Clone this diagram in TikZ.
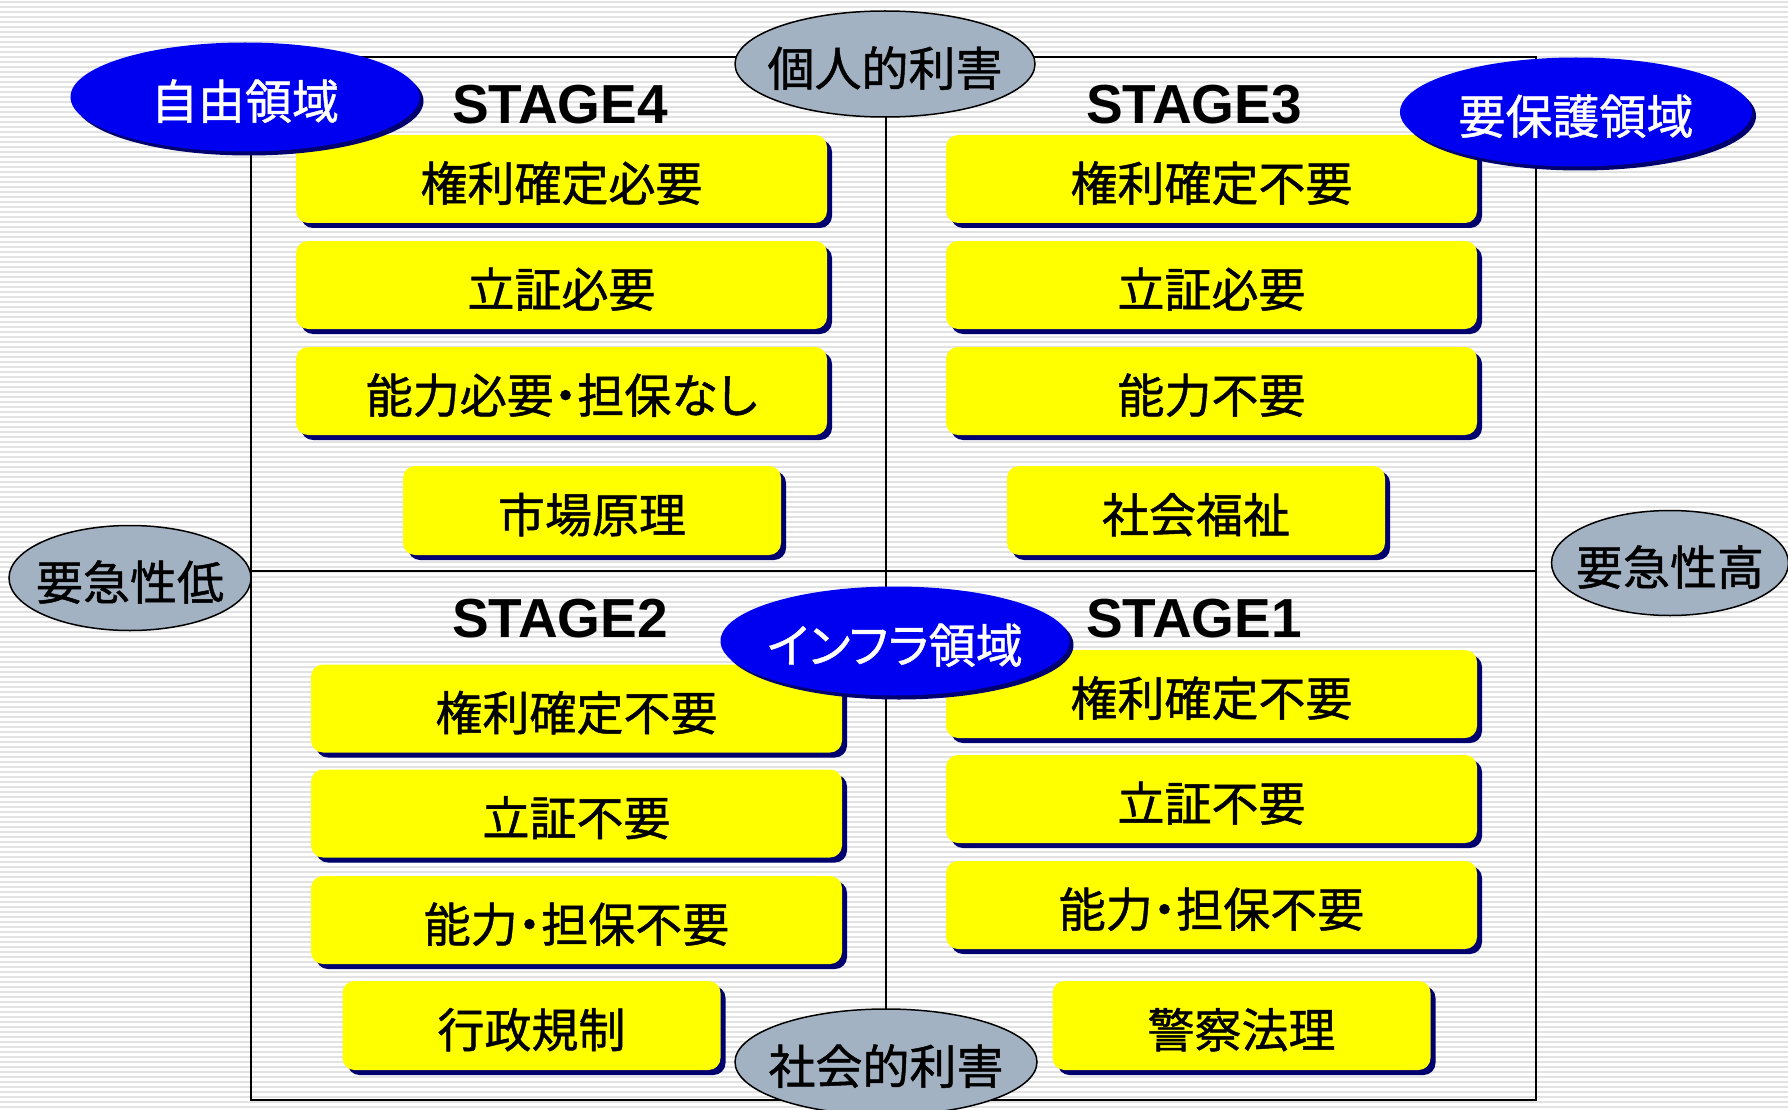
\documentclass[tikz,border=0pt]{standalone}
\usepackage{fontspec}
\usetikzlibrary{shadows,shapes.geometric}
\newfontfamily\jp[RawFeature=+palt, FakeBold=1]{Noto Sans CJK JP}
\newfontfamily\lat{Liberation Sans}
\definecolor{stripe}{RGB}{226,226,226}
\definecolor{boxyellow}{RGB}{255,255,0}
\definecolor{navy}{RGB}{0,0,110}
\definecolor{eblue}{RGB}{0,0,240}
\definecolor{egray}{RGB}{163,178,194}
\newcommand\ctr[1]{\makebox[0pt]{#1}}
\begin{document}
\begin{tikzpicture}[x=1pt,y=-1pt,
  lbl/.style={font=\jp\fontsize{47}{50}\selectfont, inner sep=0pt,
    text height=44pt, text depth=0pt},
  ybox/.style={lbl, rectangle, rounded corners=12pt, fill=boxyellow,
    general shadow={fill=navy, shadow xshift=5pt, shadow yshift=-5pt}},
  bigbox/.style={ybox, minimum width=531pt, minimum height=88pt},
  smallbox/.style={ybox, minimum width=378pt, minimum height=89pt},
  blueell/.style={lbl, ellipse, fill=eblue, text=white,
    general shadow={fill=navy, shadow xshift=4pt, shadow yshift=-4pt},
    minimum width=349pt, minimum height=109pt},
  grayell/.style={lbl, ellipse, fill=egray, draw=black, line width=1.5pt,
    minimum width=300pt, minimum height=106pt},
  stage/.style={font=\lat\bfseries\fontsize{55}{58}\selectfont, inner sep=0pt},
  frameline/.style={line width=2pt, black}
]
\useasboundingbox (0,0) rectangle (1788,1110);
\fill[white] (0,0) rectangle (1788,1110);
\foreach \y in {2,7,...,1110} \draw[stripe, line width=2pt] (0,\y) -- (1788,\y);

% frame
\coordinate (tl) at (251,57);
\coordinate (br) at (1536,1100);
\coordinate (mt) at (886,57);
\coordinate (mb) at (886,1100);
\coordinate (ml) at (251,571);
\coordinate (mr) at (1536,571);
\draw[frameline] (tl) rectangle (br);
\draw[frameline] (mt) -- (mb);
\draw[frameline] (ml) -- (mr);

% stage titles
\node[stage] (st4) at (560,105) {STAGE4};
\node[stage] (st3) at (1194,105) {STAGE3};
\node[stage] (st2) at (560,619) {STAGE2};
\node[stage] (st1) at (1194,619) {STAGE1};

% stage 4
\node[bigbox] (a1) at (561.5,179) {権利確定必要};
\node[bigbox] (a2) at (561.5,285) {立証必要};
\node[bigbox] (a3) at (561.5,391) {能力必要・担保なし};
\node[smallbox] (a4) at (592,510.5) {市場原理};
% stage 3
\node[bigbox] (b1) at (1211.5,179) {権利確定不要};
\node[bigbox] (b2) at (1211.5,285) {立証必要};
\node[bigbox] (b3) at (1211.5,391) {能力不要};
\node[smallbox] (b4) at (1196,510.5) {社会福祉};
% stage 2
\node[bigbox] (c1) at (576.5,708.5) {権利確定不要};
\node[bigbox] (c2) at (576.5,813.5) {立証不要};
\node[bigbox] (c3) at (576.5,920) {能力・担保不要};
\node[smallbox] (c4) at (531.5,1025.5) {行政規制};
% stage 1
\node[bigbox] (d1) at (1211.5,694) {権利確定不要};
\node[bigbox] (d2) at (1211.5,799) {立証不要};
\node[bigbox] (d3) at (1211.5,905) {能力・担保不要};
\node[smallbox] (d4) at (1241.5,1025.5) {警察法理};

% ellipses
\node[blueell] (free) at (245,97) {\ctr{自由領域}};
\node[grayell] (indiv) at (885,64) {\ctr{個人的利害}};
\node[blueell, minimum width=352pt] (prot) at (1576,112) {\ctr{要保護領域}};
\node[grayell, minimum width=242pt, minimum height=105pt] (low) at (130,578) {\ctr{要急性低}};
\node[grayell, minimum width=237pt, minimum height=105pt] (high) at (1670,563) {\ctr{要急性高}};
\node[blueell] (infra) at (895,641) {\ctr{インフラ領域}};
\node[grayell, minimum width=302pt] (soc) at (886,1062) {\ctr{社会的利害}};
\end{tikzpicture}
\end{document}
